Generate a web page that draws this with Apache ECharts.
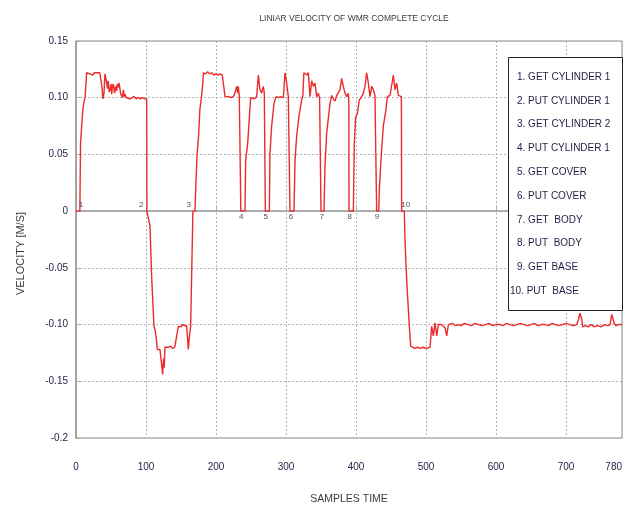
<!DOCTYPE html>
<html>
<head>
<meta charset="utf-8">
<script src="https://cdn.jsdelivr.net/npm/echarts@6/dist/echarts.min.js"></script>
<style>
  html, body { margin: 0; padding: 0; background: #fff; overflow: hidden; }
  #chart { width: 625px; height: 512px; }
</style>
</head>
<body>
<div id="chart"></div>
<script>
  // velocity trace [sample, m/s]
  const velocityTrace = [
    [0, 0], [5.5, 0], [6, 0.03], [6.5, 0.06], [9.5, 0.088], [11, 0.095], [12.9, 0.1], [14, 0.11], [15.2, 0.122],
    [18, 0.123], [20, 0.121], [22, 0.122], [24, 0.12], [26, 0.122], [28, 0.121], [30, 0.122], [32, 0.121], [34, 0.122], [36, 0.121],
    [37, 0.11], [38.5, 0.099], [40, 0.104], [41.4, 0.121], [42.5, 0.118], [43.8, 0.113], [45, 0.108], [46, 0.115], [47.5, 0.105],
    [48.6, 0.107], [50, 0.112], [51, 0.103], [52, 0.11], [53.3, 0.112], [55, 0.104], [56.5, 0.11], [58, 0.106], [59, 0.112],
    [60.5, 0.109], [61.5, 0.113], [62.9, 0.112], [64, 0.103], [65.2, 0.104], [66.5, 0.1], [67.6, 0.107], [69, 0.101], [70, 0.103],
    [72, 0.1], [74.8, 0.101], [77, 0.099], [80, 0.1], [83, 0.101], [86, 0.099], [89, 0.1], [92, 0.099], [95, 0.1], [98, 0.099], [101, 0.099],
    [101.3, 0], [102, 0], [103, -0.005], [105.7, -0.013], [108, -0.057], [111.4, -0.1015], [113, -0.105], [114.3, -0.11], [116.2, -0.122],
    [118, -0.121], [120, -0.122], [122.4, -0.121], [123.8, -0.144], [125, -0.13], [126, -0.138], [127.1, -0.12], [129, -0.119],
    [132, -0.12], [135, -0.119], [138, -0.121], [141, -0.12], [143.8, -0.12], [145, -0.106], [146.2, -0.1015], [148, -0.1],
    [150, -0.102], [152, -0.1], [155, -0.101], [158, -0.101], [160.5, -0.122], [162, -0.11], [163.8, -0.1015], [166.5, -0.1],
    [167, 0], [170, 0], [171, 0.02], [173, 0.05], [175, 0.065], [177, 0.09], [179, 0.099], [181, 0.112], [182, 0.122],
    [185, 0.121], [188, 0.123], [191, 0.121], [194, 0.122], [197, 0.12], [200, 0.121], [203, 0.12], [206, 0.121], [209, 0.12], [211.4, 0.12],
    [212.9, 0.101], [215, 0.1], [218, 0.101], [221, 0.1], [224.7, 0.101], [227.1, 0.104], [229.5, 0.11], [231, 0.104], [231.9, 0.11],
    [233.3, 0.101], [235, 0.101], [235.5, 0], [241.4, 0], [242.4, 0.045], [245.3, 0.06], [247.6, 0.082], [249.5, 0.1],
    [252, 0.101], [255, 0.099], [258.1, 0.101], [260.5, 0.12], [262.9, 0.107], [265.2, 0.104], [267.6, 0.11], [269, 0.104], [270.2, 0.104],
    [270.5, 0], [276.2, 0], [277.1, 0.051], [279.5, 0.075], [282.9, 0.095], [285.7, 0.101], [289, 0.1], [292, 0.101], [296.2, 0.1],
    [298.6, 0.122], [301, 0.113], [303.3, 0.101], [305.5, 0.101], [305.7, 0], [311.4, 0], [312.9, 0.045], [315.2, 0.066], [318.6, 0.084],
    [322.4, 0.098], [324, 0.101], [325.5, 0.122], [327.5, 0.122], [329.5, 0.12], [331.9, 0.122], [334.3, 0.101], [336.7, 0.115],
    [339, 0.11], [341.4, 0.113], [343.8, 0.101], [346.2, 0.104], [348, 0.1], [349.5, 0.1], [350, 0], [354.3, 0],
    [355.7, 0.04], [358.1, 0.069], [360.5, 0.082], [362.9, 0.095], [365.2, 0.102], [367.6, 0.099], [370, 0.097], [372.4, 0.102],
    [374.8, 0.101], [377.1, 0.107], [379.5, 0.117], [381.9, 0.11], [384.3, 0.104], [386.7, 0.101], [389, 0.104], [389.8, 0.095],
    [390, 0], [396.2, 0], [397.6, 0.06], [399.5, 0.083], [401.9, 0.086], [404.8, 0.098], [408.1, 0.101], [410.5, 0.104], [412.9, 0.11],
    [415.2, 0.122], [417.6, 0.113], [420, 0.101], [422.4, 0.11], [424.8, 0.107], [427.1, 0.102], [428.6, 0.101],
    [429.5, 0], [432.5, 0], [433.3, 0.019], [435.7, 0.045], [439, 0.075], [442.9, 0.09], [444.8, 0.101], [448.6, 0.102], [451, 0.111],
    [453.3, 0.12], [455.7, 0.107], [458.1, 0.113], [460.5, 0.102], [462.9, 0.101], [464.8, 0.101], [465.2, 0], [469, 0],
    [470, -0.025], [471.5, -0.049], [473.4, -0.072], [476.2, -0.1015], [478.1, -0.119], [480, -0.12], [484, -0.121], [488, -0.12],
    [492, -0.121], [496, -0.12], [500, -0.121], [505.8, -0.12], [508.1, -0.1015], [510.5, -0.11], [512.9, -0.0985], [515.3, -0.11],
    [517.7, -0.1], [520, -0.1015], [522.4, -0.1], [527.2, -0.103], [529.6, -0.11], [532, -0.1], [534.3, -0.1015], [538, -0.099],
    [542, -0.101], [546, -0.1], [550, -0.101], [555, -0.099], [560, -0.1], [565, -0.101], [570, -0.099], [575, -0.1], [580, -0.101],
    [585, -0.1], [590, -0.099], [595, -0.101], [600, -0.1], [605, -0.1], [610, -0.101], [615, -0.099], [620, -0.1], [625, -0.101],
    [630, -0.1], [635, -0.099], [640, -0.1], [645, -0.101], [650, -0.1], [655, -0.099], [660, -0.101], [665, -0.1], [670, -0.1],
    [675, -0.101], [680, -0.099], [685, -0.1], [690, -0.101], [695, -0.1], [700, -0.099], [705, -0.1], [710, -0.101], [715.3, -0.1],
    [717.7, -0.096], [720, -0.09], [722.4, -0.095], [723.9, -0.102], [728, -0.101], [732, -0.102], [736, -0.1], [740, -0.102],
    [745, -0.101], [750, -0.102], [755, -0.1], [760, -0.101], [763, -0.1], [765.3, -0.091], [767.7, -0.09], [769, -0.099],
    [771.5, -0.101], [775, -0.1], [780, -0.1],
  ];

  // numbered step markers on the zero line
  const stepLabels = ['1', '2', '3', '4', '5', '6', '7', '8', '9', '10'];
  const stepSamples = [7, 93, 161, 236, 271, 307, 351, 391, 430, 471];
  const stepNames = [
    'GET CYLINDER 1', 'PUT CYLINDER 1', 'GET CYLINDER 2', 'PUT CYLINDER 1', 'GET COVER',
    'PUT COVER', 'GET  BODY', 'PUT  BODY', 'GET BASE', 'PUT  BASE',
  ];

  const xTickLabels = [0, 100, 200, 300, 400, 500, 600, 700, 780];

  const chart = echarts.init(document.getElementById('chart'));

  const gridLine = { show: true, lineStyle: { color: '#b4b4b4', type: [2, 2], width: 1 } };
  const font = 'Liberation Sans Narrow, Liberation Sans, sans-serif';

  // legend box drawn as a graphic
  const legendItems = stepNames.map((name, i) => ({
    type: 'text',
    left: i === 9 ? 510 : 517,
    top: 72 + i * 23.8,
    z: 11,
    style: {
      text: stepLabels[i] + '. ' + name,
      font: '10px ' + font,
      fill: '#1f1f45',
    },
  }));

  const option = {
    animation: false,
    backgroundColor: '#fff',
    title: {
      text: 'LINIAR VELOCITY OF WMR COMPLETE CYCLE',
      left: 349,
      top: 9,
      textAlign: 'center',
      textStyle: { fontSize: 8.5, fontWeight: 'normal', color: '#3a3a3a', fontFamily: font },
    },
    grid: {
      left: 76,
      right: 3,
      top: 41,
      bottom: 74,
      outerBoundsMode: 'none',
      show: true,
      borderColor: '#8a8a8a',
      borderWidth: 1,
    },
    xAxis: {
      type: 'value',
      min: 0,
      max: 780,
      interval: 100,
      name: 'SAMPLES TIME',
      nameLocation: 'middle',
      nameGap: 56,
      nameTextStyle: { fontSize: 10.5, color: '#3a3a3a', fontFamily: font },
      axisLine: { show: true, lineStyle: { color: '#999', width: 1.5 } },
      axisTick: { show: true, inside: true, length: 4, lineStyle: { color: '#aaa' } },
      axisLabel: {
        margin: 24,
        fontSize: 10,
        color: '#1f1f45',
        fontFamily: font,
        customValues: xTickLabels,
        alignMaxLabel: 'right',
      },
      splitLine: gridLine,
    },
    yAxis: {
      type: 'value',
      min: -0.2,
      max: 0.15,
      interval: 0.05,
      name: 'VELOCITY [M/S]',
      nameLocation: 'middle',
      nameGap: 50,
      nameTextStyle: { fontSize: 11, color: '#3a3a3a', fontFamily: font, padding: [0, 28, 0, 0] },
      axisLine: { show: true, lineStyle: { color: '#999', width: 1.5 } },
      axisTick: { show: true, inside: true, length: 4, lineStyle: { color: '#aaa' } },
      axisLabel: {
        margin: 8,
        fontSize: 10,
        color: '#1f1f45',
        fontFamily: font,
        formatter: (v) => {
          const r = Math.round(v * 100) / 100;
          if (r === 0) return '0';
          if (r === -0.2) return '-0.2';
          return r.toFixed(2);
        },
      },
      splitLine: gridLine,
    },
    series: [
      {
        name: 'velocity',
        type: 'line',
        data: velocityTrace,
        showSymbol: false,
        lineStyle: { color: '#ec2a2a', width: 1.4 },
        z: 3,
      },
      {
        name: 'steps',
        type: 'scatter',
        symbolSize: 0,
        data: stepSamples.map((s, i) => ({
          value: [s, 0],
          label: {
            show: true,
            formatter: stepLabels[i],
            position: i >= 3 && i <= 8 ? 'bottom' : 'top',
            distance: 2,
            fontSize: 8,
            color: '#222',
            fontFamily: font,
          },
        })),
        z: 4,
      },
    ],
    graphic: [
      {
        type: 'rect',
        left: 508,
        top: 57,
        z: 10,
        shape: { width: 114, height: 253 },
        style: { fill: '#fff', stroke: '#222', lineWidth: 1 },
      },
      ...legendItems,
    ],
  };

  chart.setOption(option);
</script>
</body>
</html>
